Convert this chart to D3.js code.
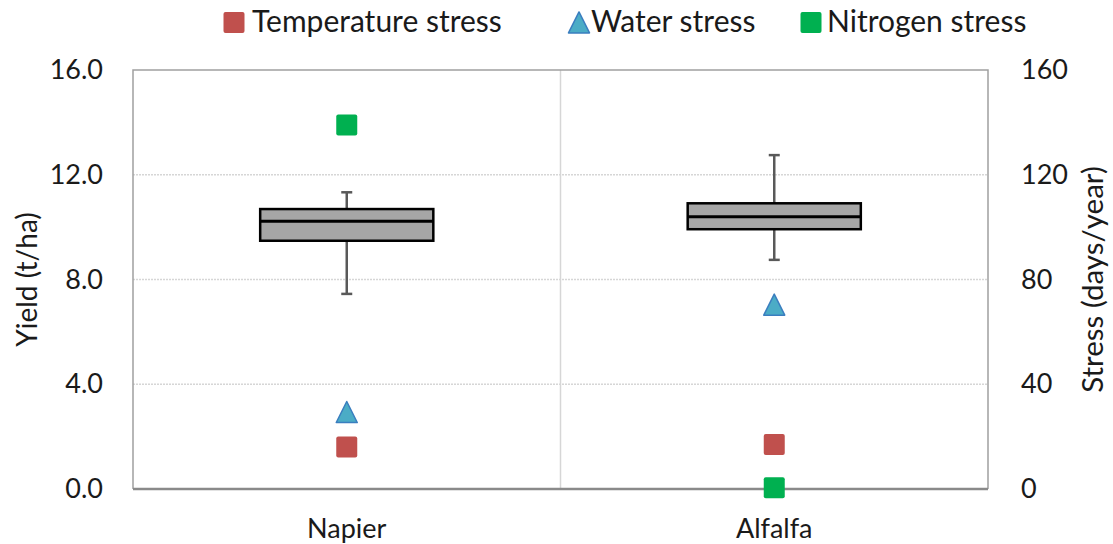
<!DOCTYPE html>
<html><head><meta charset="utf-8">
<script src="https://cdn.jsdelivr.net/npm/d3@7"></script>
<style>body{margin:0;background:#fff;} svg{display:block;font-family:Lato,"Open Sans",sans-serif;}</style>
</head><body>
<svg id="c" width="1113" height="544"></svg>
<script>
const categories = ["Napier", "Alfalfa"];
const whiskerLow = [7.45, 8.75];
const q1 = [9.48, 9.92];
const median = [10.22, 10.40];
const q3 = [10.69, 10.91];
const whiskerHigh = [11.33, 12.75];
const tempStress = [16, 17];
const waterStress = [29, 70];
const nitrogenStress = [139, 0.5];
const yTicks = [0, 4, 8, 12, 16];
const y2Ticks = [0, 40, 80, 120, 160];
const seriesNames = ["Temperature stress", "Water stress", "Nitrogen stress"];

const svg = d3.select("#c");
const m = {l: 133, r: 988, t: 70, b: 489};
const x = d3.scaleBand().domain(categories).range([m.l, m.r]).padding(0);
const y = d3.scaleLinear().domain([0, 16]).range([m.b, m.t]);
const y2 = d3.scaleLinear().domain([0, 160]).range([m.b, m.t]);
const txt = "#1a1a1a";

// gridlines
svg.append("g").selectAll("line").data(yTicks.filter(d => d > 0 && d < 16)).join("line")
  .attr("x1", m.l).attr("x2", m.r).attr("y1", d => y(d)).attr("y2", d => y(d))
  .attr("stroke", "#d6d6d6").attr("stroke-width", 1.5).attr("stroke-dasharray", "2,1");
// category separator
svg.append("line").attr("x1", x("Alfalfa")).attr("x2", x("Alfalfa")).attr("y1", m.t).attr("y2", m.b)
  .attr("stroke", "#d6d6d6").attr("stroke-width", 1.5);
// border
svg.append("path").attr("d", `M${m.l},${m.b}V${m.t}H${m.r}V${m.b}`).attr("fill", "none")
  .attr("stroke", "#a0a0a0").attr("stroke-width", 1.5);
svg.append("line").attr("x1", m.l).attr("x2", m.r).attr("y1", m.b).attr("y2", m.b)
  .attr("stroke", "#8a8a8a").attr("stroke-width", 2.5);

// axes
const fs = 27;
const yl = svg.append("g").attr("transform", `translate(${m.l},0)`)
  .call(d3.axisLeft(y).tickValues(yTicks).tickFormat(d3.format(".1f")).tickSize(0).tickPadding(30));
yl.select(".domain").remove();
yl.selectAll("text").attr("font-size", fs).attr("fill", txt).attr("font-family", "Lato");
const yr = svg.append("g").attr("transform", `translate(${m.r},0)`)
  .call(d3.axisRight(y2).tickValues(y2Ticks).tickFormat(d3.format("d")).tickSize(0).tickPadding(33));
yr.select(".domain").remove();
yr.selectAll("text").attr("font-size", fs).attr("fill", txt).attr("font-family", "Lato");
const xa = svg.append("g").attr("transform", `translate(0,${m.b})`)
  .call(d3.axisBottom(x).tickSize(0).tickPadding(0));
xa.select(".domain").remove();
xa.selectAll("text").attr("font-size", 27).attr("fill", txt).attr("font-family", "Lato")
  .attr("dy", null).attr("y", 538 - m.b);

svg.append("text").attr("transform", `translate(37,${(m.t + m.b) / 2}) rotate(-90)`)
  .attr("text-anchor", "middle").attr("font-size", 28).attr("fill", txt).text("Yield (t/ha)");
svg.append("text").attr("transform", `translate(1103,${(m.t + m.b) / 2}) rotate(-90)`)
  .attr("text-anchor", "middle").attr("font-size", 29.5).attr("fill", txt).text("Stress (days/year)");

// boxes
const bw = x.bandwidth() * 0.405;
const cx = i => x(categories[i]) + x.bandwidth() / 2;
const g = svg.append("g");
categories.forEach((c, i) => {
  const X = cx(i);
  g.append("line").attr("x1", X).attr("x2", X).attr("y1", y(whiskerHigh[i])).attr("y2", y(q3[i])).attr("stroke", "#595959").attr("stroke-width", 2.5);
  g.append("line").attr("x1", X).attr("x2", X).attr("y1", y(q1[i])).attr("y2", y(whiskerLow[i])).attr("stroke", "#595959").attr("stroke-width", 2.5);
  [whiskerHigh[i], whiskerLow[i]].forEach(v => g.append("line").attr("x1", X - 5.5).attr("x2", X + 5.5)
    .attr("y1", y(v)).attr("y2", y(v)).attr("stroke", "#595959").attr("stroke-width", 2.5));
  g.append("rect").attr("x", X - bw / 2).attr("width", bw).attr("y", y(q3[i])).attr("height", y(q1[i]) - y(q3[i]))
    .attr("fill", "#a6a6a6").attr("stroke", "#000").attr("stroke-width", 2.5);
  g.append("line").attr("x1", X - bw / 2).attr("x2", X + bw / 2).attr("y1", y(median[i])).attr("y2", y(median[i]))
    .attr("stroke", "#000").attr("stroke-width", 3);
});

// markers
const colors = {temp: "#c0504d", water: "#4bacc6", nitro: "#00b050"};
const sq = 21;
function square(sel, X, Y, col, s) {
  sel.append("rect").attr("x", X - s / 2).attr("y", Y - s / 2).attr("width", s).attr("height", s)
    .attr("rx", 2).attr("fill", col);
}
function tri(sel, X, Y, s) {
  sel.append("path").attr("d", `M${X},${Y - s * 0.55}L${X + s / 2},${Y + s * 0.45}L${X - s / 2},${Y + s * 0.45}Z`)
    .attr("fill", colors.water).attr("stroke", "#3a7ebf").attr("stroke-width", 1.5).attr("stroke-linejoin", "round");
}
const mk = svg.append("g");
categories.forEach((c, i) => {
  const X = cx(i);
  square(mk, X, y2(tempStress[i]), colors.temp, sq);
  tri(mk, X, y2(waterStress[i]), 21);
  square(mk, X, y2(nitrogenStress[i]), colors.nitro, sq);
});

// legend
const lg = svg.append("g").attr("font-size", 30).attr("fill", txt);
const lb = 32;
square(lg, 234, 22.5, colors.temp, 21);
lg.append("text").attr("x", 252).attr("y", lb).text(seriesNames[0]);
tri(lg, 579, 23.5, 21);
lg.append("text").attr("x", 591).attr("y", lb).text(seriesNames[1]);
square(lg, 811, 22.5, colors.nitro, 21);
lg.append("text").attr("x", 827).attr("y", lb).text(seriesNames[2]);
</script>
</body></html>
